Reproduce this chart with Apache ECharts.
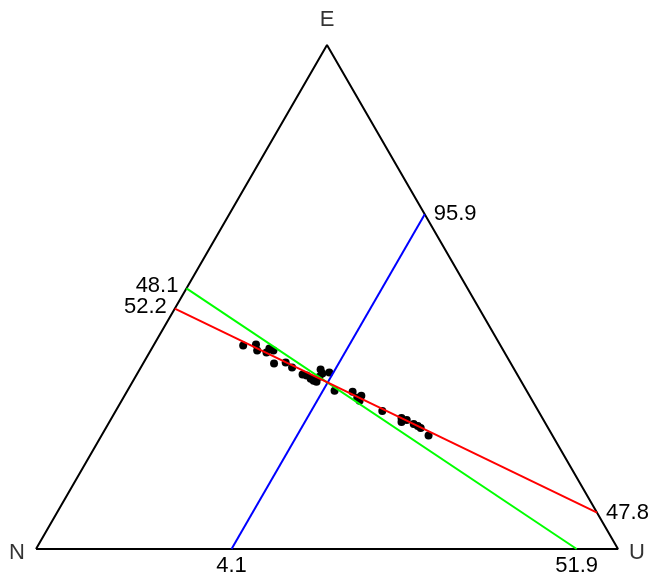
<!DOCTYPE html>
<html>
<head>
<meta charset="utf-8">
<script src="https://cdn.jsdelivr.net/npm/echarts@6/dist/echarts.min.js"></script>
<style>
  html, body { margin: 0; padding: 0; background: #fff; }
  #main { width: 648px; height: 578px; }
</style>
</head>
<body>
<div id="main"></div>
<script>
// vertices of the triangle, in the order N, U, E
var vertexNames = ['N', 'U', 'E'];

// sample compositions (percent)
var pointsN = [44.2, 41.9, 42.3, 40.9, 40.0, 39.5, 40.7, 38.6, 38.0, 36.9, 36.3, 35.9, 35.6, 35.2, 33.3, 33.4,
               32.1, 34.2, 33.0, 30.0, 29.8, 28.9, 29.7, 26.8, 24.2, 24.6, 23.5, 22.7, 22.2, 21.9, 21.3];
var pointsU = [15.4, 17.5, 18.3, 20.1, 20.2, 21.1, 22.5, 24.4, 26.0, 28.5, 29.3, 30.3, 31.0, 31.6, 31.1, 31.8,
               32.9, 31.6, 35.6, 38.8, 40.2, 40.7, 40.9, 45.8, 49.8, 50.2, 50.9, 52.5, 53.4, 54.1, 56.2];
var pointsE = [40.4, 40.6, 39.4, 39.0, 39.8, 39.4, 36.8, 37.0, 36.0, 34.6, 34.4, 33.8, 33.4, 33.2, 35.6, 34.8,
               35.0, 34.2, 31.4, 31.2, 30.0, 30.4, 29.4, 27.4, 26.0, 25.2, 25.6, 24.8, 24.4, 24.0, 22.5];

// reference lines: start / end compositions [N, U, E] and their labels
var lineColors = ['#0000ff', '#00ff00', '#ff0000'];
var lineStart = [[66.4, 33.6, 0], [48.3, 0, 51.7], [52.3, 0, 47.7]];
var lineEnd = [[0, 33.6, 66.4], [7.1, 92.9, 0], [0, 92.8, 7.2]];
var lineStartLabels = ['4.1', '48.1', '52.2'];
var lineEndLabels = ['95.9', '51.9', '47.8'];

var S3 = Math.sqrt(3) / 2;
var FONT = 'Liberation Sans, Arial, sans-serif';
var FS = 22;

function toXY(c) {
    var n = c[0], u = c[1], e = c[2];
    var t = n + u + e;
    return [(u + e / 2) / t, e * S3 / t];
}

// label placement for an end point lying on a given edge
function edgeLabel(text, c) {
    var l = { show: true, formatter: text, color: '#000', fontSize: FS, fontFamily: FONT };
    if (c[2] === 0) {
        l.position = 'bottom'; l.distance = 6;
    } else if (c[1] === 0) {
        l.position = 'left'; l.distance = 8; l.offset = [0, -2];
    } else {
        l.position = 'right'; l.distance = 9;
    }
    return l;
}

var myChart = echarts.init(document.getElementById('main'));

var series = [];

// triangle outline
var corners = [[100, 0, 0], [0, 100, 0], [0, 0, 100], [100, 0, 0]];
series.push({
    type: 'line',
    data: corners.map(toXY),
    symbol: 'none',
    clip: false,
    lineStyle: { color: '#000', width: 2 },
    z: 1
});

// points
var pts = [];
for (var i = 0; i < pointsN.length; i++) {
    pts.push(toXY([pointsN[i], pointsU[i], pointsE[i]]));
}
series.push({
    type: 'scatter',
    data: pts,
    symbolSize: 8,
    itemStyle: { color: '#000', opacity: 1 },
    z: 2
});

// reference lines
for (var k = 0; k < lineColors.length; k++) {
    series.push({
        type: 'line',
        clip: false,
        symbol: 'circle',
        symbolSize: 0,
        showSymbol: true,
        lineStyle: { color: lineColors[k], width: 2 },
        itemStyle: { color: lineColors[k] },
        data: [
            { value: toXY(lineStart[k]), label: edgeLabel(lineStartLabels[k], lineStart[k]) },
            { value: toXY(lineEnd[k]), label: edgeLabel(lineEndLabels[k], lineEnd[k]) }
        ],
        z: 3
    });
}

// vertex names
var vertexLabel = [
    { position: 'left', distance: 11, offset: [0, 4] },
    { position: 'right', distance: 11, offset: [0, 4] },
    { position: 'top', distance: 14, offset: [0, 0] }
];
series.push({
    type: 'scatter',
    symbolSize: 0,
    clip: false,
    data: vertexNames.map(function (name, j) {
        var c = [0, 0, 0];
        c[j] = 100;
        return {
            value: toXY(c),
            label: {
                show: true,
                formatter: name,
                position: vertexLabel[j].position,
                distance: vertexLabel[j].distance,
                offset: vertexLabel[j].offset,
                color: '#000',
                fontSize: FS,
                fontFamily: FONT
            }
        };
    }),
    z: 4
});

var option = {
    animation: false,
    grid: { left: 36, right: 30, top: 45, bottom: 29 },
    xAxis: { type: 'value', min: 0, max: 1, show: false },
    yAxis: { type: 'value', min: 0, max: S3, show: false },
    series: series
};

myChart.setOption(option);
</script>
</body>
</html>
